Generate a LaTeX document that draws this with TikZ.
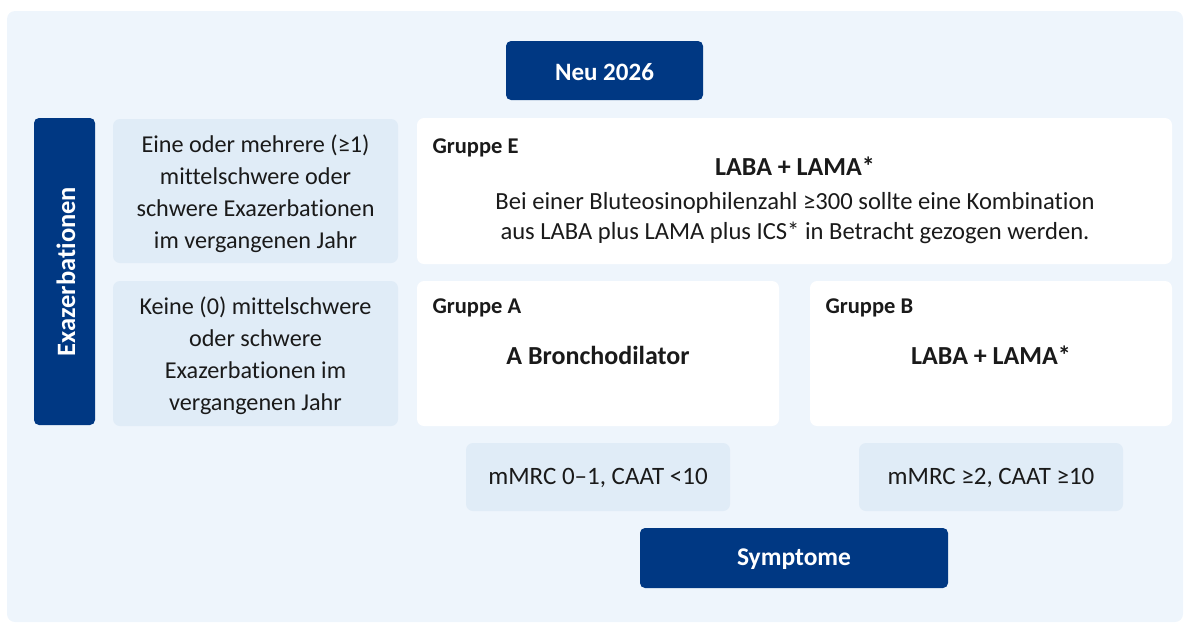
\documentclass[tikz,border=0pt]{standalone}
\usepackage{fontspec}
\setmainfont{Carlito}[Ligatures={NoCommon}]
\definecolor{bgc}{HTML}{EEF5FC}
\definecolor{navy}{HTML}{003883}
\definecolor{lightc}{HTML}{E0ECF7}
\definecolor{txt}{HTML}{1A1A1A}
\tikzset{
  darkbox/.style={fill=navy, rounded corners=5pt, text=white, font=\fontsize{25}{28}\selectfont\bfseries},
  critbox/.style={fill=lightc, rounded corners=7pt, text=txt, align=center, font=\fontsize{24.2}{32}\selectfont},
  groupbox/.style={fill=white, rounded corners=7pt},
  gtitle/.style={anchor=west, text=txt, font=\fontsize{22.5}{24}\selectfont\bfseries},
  therapy/.style={text=txt, font=\fontsize{26}{28}\selectfont\bfseries},
  body/.style={text=txt, align=center, font=\fontsize{24.6}{30}\selectfont},
}
\begin{document}
\begin{tikzpicture}[x=1pt,y=-1pt]
\useasboundingbox (0,0) rectangle (1190,625);
\fill[bgc, rounded corners=8pt] (7,11) rectangle (1183,622);
% dark labels
\fill[darkbox] (506,41) rectangle (703,100);
\node[darkbox, fill=none] (neu) at (604.5,72) {Neu 2026};
\fill[darkbox] (34,118) rectangle (95,425);
\node[darkbox, fill=none, rotate=90, font=\fontsize{26.5}{28}\selectfont\bfseries] (exa) at (66,271.5) {Exazerbationen};
\fill[darkbox] (640,528) rectangle (948,588);
\node[darkbox, fill=none, font=\fontsize{25.5}{28}\selectfont\bfseries] (sym) at (794,559) {Symptome};
% criteria boxes
\fill[critbox] (113,119) rectangle (398,263);
\node[critbox, fill=none] (c1) at (255.5,194) {Eine oder mehrere (≥1)\\mittelschwere oder\\schwere Exazerbationen\\im vergangenen Jahr};
\fill[critbox] (113,281) rectangle (398,426);
\node[critbox, fill=none] (c0) at (255.5,356) {Keine (0) mittelschwere\\oder schwere\\Exazerbationen im\\vergangenen Jahr};
\fill[critbox] (466,443) rectangle (730,511);
\node[critbox, fill=none, font=\fontsize{25}{30}\selectfont] (s1) at (598,478) {mMRC 0–1, CAAT <10};
\fill[critbox] (859,443) rectangle (1123,511);
\node[critbox, fill=none, font=\fontsize{25}{30}\selectfont] (s2) at (991,478) {mMRC ≥2, CAAT ≥10};
% group boxes
\fill[groupbox] (417,118) rectangle (1172,264);
\node[gtitle] (ge) at (429,148) {Gruppe E};
\node[therapy] (te) at (795,166) {LABA + LAMA*};
\node[body] (be) at (795,218) {Bei einer Bluteosinophilenzahl ≥300 sollte eine Kombination\\aus LABA plus LAMA plus ICS* in Betracht gezogen werden.};
\fill[groupbox] (417,281) rectangle (779,426);
\node[gtitle] (ga) at (429,308) {Gruppe A};
\node[therapy] (ta) at (598,355) {A Bronchodilator};
\fill[groupbox] (810,281) rectangle (1172,426);
\node[gtitle] (gb) at (822,308) {Gruppe B};
\node[therapy] (tb) at (991,355) {LABA + LAMA*};
\end{tikzpicture}
\end{document}
